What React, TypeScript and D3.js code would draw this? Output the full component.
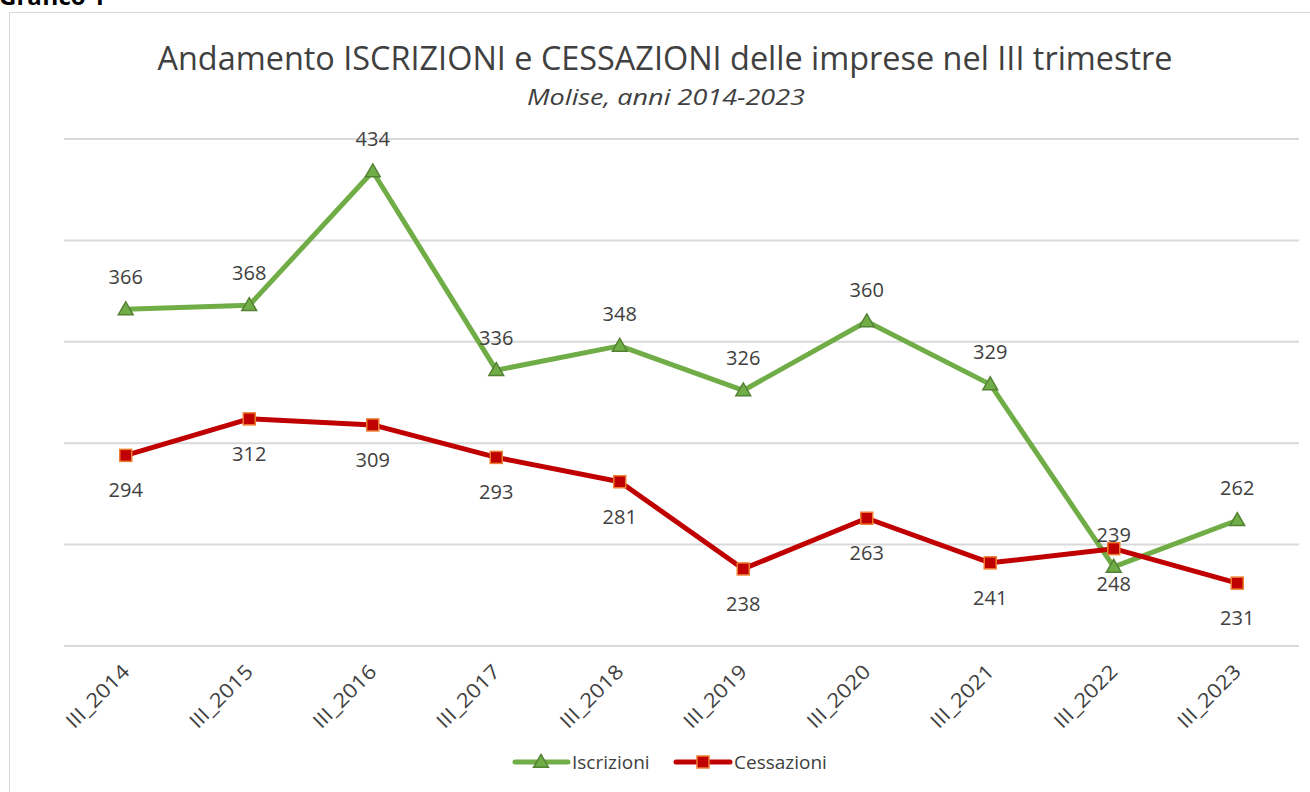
import React from "react";
import * as d3 from "d3";

const categories = ["III_2014","III_2015","III_2016","III_2017","III_2018","III_2019","III_2020","III_2021","III_2022","III_2023"];
const iscrizioni = [366, 368, 434, 336, 348, 326, 360, 329, 239, 262];
const cessazioni = [294, 312, 309, 293, 281, 238, 263, 241, 248, 231];
const yTicks = [200, 250, 300, 350, 400, 450];

const W = 1310, H = 792;
const FONT = "'Open Sans', sans-serif";

export default function App() {
  const x = d3.scalePoint<string>().domain(categories).range([64, 1299]).padding(0.5);
  const y = d3.scaleLinear().domain([200, 450]).range([646, 139]);
  const line = d3.line<number>().x((_, i) => x(categories[i])!).y(d => y(d));
  const tri = d3.symbol().type(d3.symbolTriangle).size(95)()!;
  const sq = 12;
  return (
    <div style={{ position: "fixed", left: 0, top: 0, width: W, height: H, background: "#fff" }}>
      <svg width={W} height={H} style={{ display: "block", fontFamily: FONT }}>
        <rect x={0} y={0} width={W} height={H} fill="#fff" />
        <text x={-1} y={5} fontSize={24} fontWeight="bold" fill="#000">Grafico 1</text>
        <rect x={9.5} y={12.5} width={1310} height={800} fill="none" stroke="#d9d9d9" strokeWidth={1} />
        {yTicks.map(t => (
          <line key={t} x1={64} x2={1299} y1={y(t)} y2={y(t)} stroke="#d9d9d9" strokeWidth={2} />
        ))}
        <text x={665} y={70} textAnchor="middle" fontSize={32} fill="#404040" textLength={1015} lengthAdjust="spacingAndGlyphs">Andamento ISCRIZIONI e CESSAZIONI delle imprese nel III trimestre</text>
        <text x={666} y={105} textAnchor="middle" fontSize={22} fontStyle="italic" fill="#404040" textLength={278} lengthAdjust="spacingAndGlyphs">Molise, anni 2014-2023</text>
        {categories.map(c => (
          <text key={c} transform={`translate(${x(c)! + 5},${673}) rotate(-45)`} textAnchor="end" fontSize={20} fill="#404040" textLength={80} lengthAdjust="spacingAndGlyphs">{c}</text>
        ))}
        <path d={line(iscrizioni)!} fill="none" stroke="#70AD47" strokeWidth={5} strokeLinejoin="round" />
        <path d={line(cessazioni)!} fill="none" stroke="#C00000" strokeWidth={5} strokeLinejoin="round" />
        {iscrizioni.map((v, i) => (
          <path key={"gi" + i} d={tri} transform={`translate(${x(categories[i])},${y(v) + 1})`} fill="#70AD47" stroke="#548235" strokeWidth={1.5} />
        ))}
        {cessazioni.map((v, i) => (
          <rect key={"ri" + i} x={x(categories[i])! - sq / 2} y={y(v) - sq / 2} width={sq} height={sq} fill="#C00000" stroke="#ED7D31" strokeWidth={1.5} />
        ))}
        {iscrizioni.map((v, i) => (
          <text key={"gl" + i} x={x(categories[i])} y={y(v) - 25} textAnchor="middle" fontSize={20} fill="#404040">{v}</text>
        ))}
        {cessazioni.map((v, i) => (
          <text key={"rl" + i} x={x(categories[i])} y={y(v) + 42} textAnchor="middle" fontSize={20} fill="#404040">{v}</text>
        ))}
        <line x1={515} x2={568} y1={762} y2={762} stroke="#70AD47" strokeWidth={5} strokeLinecap="round" />
        <path d={tri} transform="translate(541,763)" fill="#70AD47" stroke="#548235" strokeWidth={1.5} />
        <text x={572} y={769} fontSize={19} fill="#404040">Iscrizioni</text>
        <line x1={676} x2={730} y1={762} y2={762} stroke="#C00000" strokeWidth={5} strokeLinecap="round" />
        <rect x={697} y={756} width={12} height={12} fill="#C00000" stroke="#ED7D31" strokeWidth={1.5} />
        <text x={734} y={769} fontSize={19} fill="#404040">Cessazioni</text>
      </svg>
    </div>
  );
}
